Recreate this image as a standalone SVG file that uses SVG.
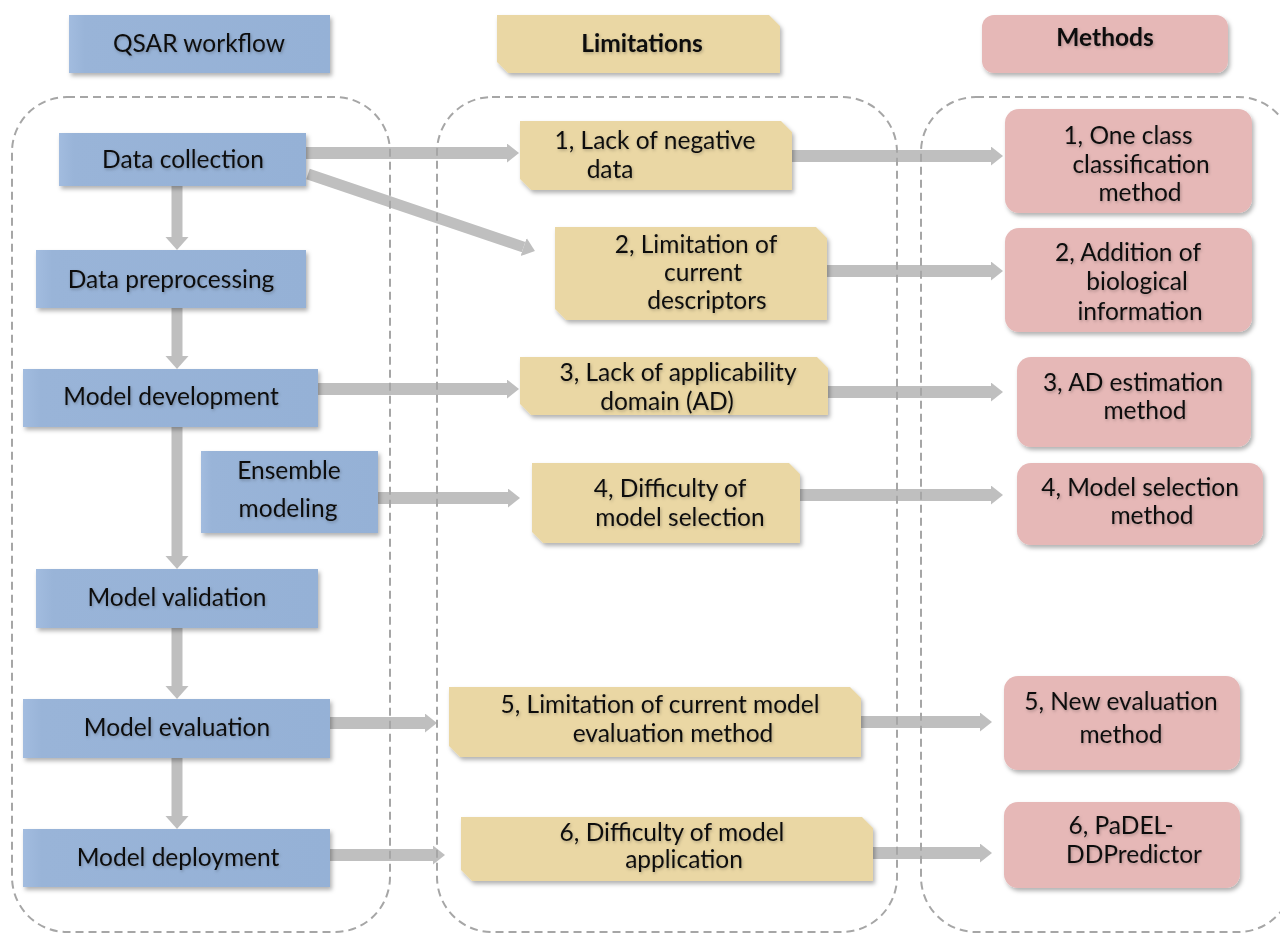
<svg xmlns="http://www.w3.org/2000/svg" width="1280" height="934" viewBox="0 0 1280 934">
  <defs>
    <style>
      .lbl { font-family: Lato, "Liberation Sans", sans-serif; font-size: 24.5px; fill: #111; text-anchor: middle; filter: url(#txtShadow); }
      .bold { font-weight: bold; }
      .blue { fill: url(#blueFill); filter: url(#boxShadow); }
      .yellow { fill: #ead7a4; filter: url(#boxShadow); }
      .pink { fill: #e6b8b7; filter: url(#boxShadow); }
      .frame { fill: none; stroke: #a6a6a6; stroke-width: 2; stroke-dasharray: 8 5; }
      .conn line { stroke: #bfbfbf; fill: none; }
      .h { stroke-width: 12; marker-end: url(#headH); }
      .v { stroke-width: 11; marker-end: url(#headV); }
    </style>
    <linearGradient id="blueFill" x1="0" y1="0" x2="1" y2="0">
      <stop offset="0" stop-color="#a2bcdf"/>
      <stop offset="0.06" stop-color="#99b4d8"/>
      <stop offset="1" stop-color="#95b1d6"/>
    </linearGradient>
    <filter id="boxShadow" x="-10%" y="-20%" width="125%" height="150%">
      <feDropShadow dx="2" dy="3" stdDeviation="2" flood-color="#000" flood-opacity="0.3"/>
    </filter>
    <filter id="txtShadow" x="-10%" y="-30%" width="120%" height="160%">
      <feDropShadow dx="1" dy="1.5" stdDeviation="1.5" flood-color="#000" flood-opacity="0.25"/>
    </filter>
    <marker id="headH" markerUnits="userSpaceOnUse" markerWidth="13" markerHeight="20" refX="0" refY="9.5" orient="auto">
      <path d="M0,0 L12,9.5 L0,19 Z" fill="#bfbfbf"/>
    </marker>
    <marker id="headV" markerUnits="userSpaceOnUse" markerWidth="14" markerHeight="24" refX="0" refY="11.5" orient="auto">
      <path d="M0,0 L13,11.5 L0,23 Z" fill="#bfbfbf"/>
    </marker>
  </defs>

  <rect width="1280" height="934" fill="#ffffff"/>

  <!-- connectors -->
  <g id="connectors" class="conn">
    <line class="v" x1="177" y1="186" x2="177" y2="237"/>
    <line class="v" x1="177" y1="308" x2="177" y2="356"/>
    <line class="v" x1="177" y1="427" x2="177" y2="556"/>
    <line class="v" x1="177" y1="628" x2="177" y2="686"/>
    <line class="v" x1="177" y1="758" x2="177" y2="816"/>

    <line class="h" x1="306" y1="153" x2="507" y2="153"/>
    <line class="h" x1="308" y1="174" x2="523.6" y2="247.1" style="stroke-width:11"/>
    <line class="h" x1="792" y1="156" x2="991" y2="156"/>
    <line class="h" x1="827" y1="271" x2="991" y2="271"/>
    <line class="h" x1="318" y1="389" x2="507" y2="389"/>
    <line class="h" x1="828" y1="392" x2="991" y2="392"/>
    <line class="h" x1="378" y1="498" x2="508" y2="498"/>
    <line class="h" x1="800" y1="495" x2="991" y2="495"/>
    <line class="h" x1="330" y1="723" x2="425" y2="723"/>
    <line class="h" x1="861" y1="722" x2="980" y2="722"/>
    <line class="h" x1="330" y1="855" x2="433" y2="855"/>
    <line class="h" x1="873" y1="853" x2="980" y2="853"/>
  </g>

  <!-- dashed column frames -->
  <g id="frames">
    <rect class="frame" x="12" y="97" width="378" height="835" rx="55" ry="55"/>
    <rect class="frame" x="437" y="97" width="460" height="835" rx="55" ry="55"/>
    <rect class="frame" x="921" y="97" width="372" height="835" rx="55" ry="55"/>
  </g>

  <!-- column headers -->
  <g id="hdr-workflow">
    <rect class="blue" x="69" y="15" width="261" height="58"/>
    <text class="lbl" x="199" y="52">QSAR workflow</text>
  </g>
  <g id="hdr-limitations">
    <path class="yellow" d="M497,15 H769 L780,26 V73 H508 L497,62 Z"/>
    <text class="lbl bold" x="642" y="52">Limitations</text>
  </g>
  <g id="hdr-methods">
    <rect class="pink" x="982" y="15" width="246" height="58" rx="12" ry="12"/>
    <text class="lbl bold" x="1105" y="46">Methods</text>
  </g>

  <!-- workflow steps -->
  <g id="data-collection">
    <rect class="blue" x="59" y="133" width="247" height="53"/>
    <text class="lbl" x="183" y="168">Data collection</text>
  </g>
  <g id="data-preprocessing">
    <rect class="blue" x="36" y="250" width="270" height="58"/>
    <text class="lbl" x="171" y="288">Data preprocessing</text>
  </g>
  <g id="model-development">
    <rect class="blue" x="23" y="369" width="295" height="58"/>
    <text class="lbl" x="171" y="405">Model development</text>
  </g>
  <g id="ensemble-modeling">
    <rect class="blue" x="201" y="451" width="177" height="82"/>
    <text class="lbl" x="289" y="479">Ensemble</text>
    <text class="lbl" x="288" y="517">modeling</text>
  </g>
  <g id="model-validation">
    <rect class="blue" x="36" y="569" width="282" height="59"/>
    <text class="lbl" x="177" y="606">Model validation</text>
  </g>
  <g id="model-evaluation">
    <rect class="blue" x="23" y="699" width="307" height="59"/>
    <text class="lbl" x="177" y="736">Model evaluation</text>
  </g>
  <g id="model-deployment">
    <rect class="blue" x="23" y="829" width="307" height="58"/>
    <text class="lbl" x="178" y="866">Model deployment</text>
  </g>

  <!-- limitations -->
  <g id="lim-1">
    <path class="yellow" d="M520,121 H781 L792,132 V190 H531 L520,179 Z"/>
    <text class="lbl" x="655" y="149">1, Lack of negative</text>
    <text class="lbl" x="610" y="178">data</text>
  </g>
  <g id="lim-2">
    <path class="yellow" d="M555,227 H816 L827,238 V320 H566 L555,309 Z"/>
    <text class="lbl" x="696" y="253">2, Limitation of</text>
    <text class="lbl" x="703" y="281">current</text>
    <text class="lbl" x="707" y="309">descriptors</text>
  </g>
  <g id="lim-3">
    <path class="yellow" d="M520,357 H817 L828,368 V415 H531 L520,404 Z"/>
    <text class="lbl" x="678" y="381">3, Lack of applicability</text>
    <text class="lbl" x="667" y="410">domain (AD)</text>
  </g>
  <g id="lim-4">
    <path class="yellow" d="M532,463 H789 L800,474 V543 H543 L532,532 Z"/>
    <text class="lbl" x="670" y="497">4, Difficulty of</text>
    <text class="lbl" x="680" y="526">model selection</text>
  </g>
  <g id="lim-5">
    <path class="yellow" d="M449,687 H850 L861,698 V757 H460 L449,746 Z"/>
    <text class="lbl" x="660" y="713">5, Limitation of current model</text>
    <text class="lbl" x="673" y="742">evaluation method</text>
  </g>
  <g id="lim-6">
    <path class="yellow" d="M461,817 H862 L873,828 V881 H472 L461,870 Z"/>
    <text class="lbl" x="672" y="841">6, Difficulty of model</text>
    <text class="lbl" x="684" y="868">application</text>
  </g>

  <!-- methods -->
  <g id="method-1">
    <rect class="pink" x="1005" y="109" width="247" height="104" rx="14" ry="14"/>
    <text class="lbl" x="1128" y="144">1, One class</text>
    <text class="lbl" x="1141" y="173">classification</text>
    <text class="lbl" x="1140" y="201">method</text>
  </g>
  <g id="method-2">
    <rect class="pink" x="1005" y="228" width="247" height="104" rx="14" ry="14"/>
    <text class="lbl" x="1128" y="261">2, Addition of</text>
    <text class="lbl" x="1137" y="290">biological</text>
    <text class="lbl" x="1140" y="320">information</text>
  </g>
  <g id="method-3">
    <rect class="pink" x="1017" y="357" width="234" height="90" rx="14" ry="14"/>
    <text class="lbl" x="1133" y="391">3, AD estimation</text>
    <text class="lbl" x="1145" y="419">method</text>
  </g>
  <g id="method-4">
    <rect class="pink" x="1017" y="463" width="246" height="82" rx="14" ry="14"/>
    <text class="lbl" x="1140" y="496">4, Model selection</text>
    <text class="lbl" x="1152" y="524">method</text>
  </g>
  <g id="method-5">
    <rect class="pink" x="1004" y="676" width="236" height="94" rx="14" ry="14"/>
    <text class="lbl" x="1121" y="710">5, New evaluation</text>
    <text class="lbl" x="1121" y="743">method</text>
  </g>
  <g id="method-6">
    <rect class="pink" x="1004" y="802" width="236" height="86" rx="14" ry="14"/>
    <text class="lbl" x="1121" y="834">6, PaDEL-</text>
    <text class="lbl" x="1134" y="863">DDPredictor</text>
  </g>
</svg>
